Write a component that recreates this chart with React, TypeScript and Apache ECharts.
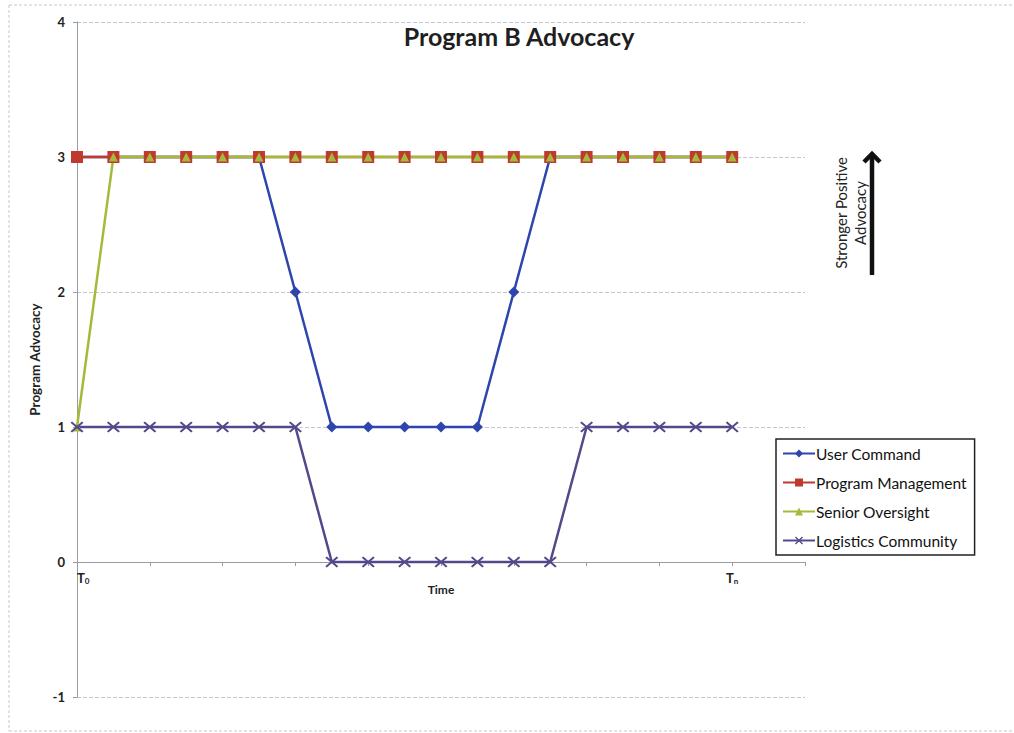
import React, { useEffect, useRef } from "react";
import * as echarts from "echarts";

// Time steps along the x axis (T0 .. Tn, plus two trailing empty steps)
const timeSteps = [
  "T0", "t1", "t2", "t3", "t4", "t5", "t6", "t7", "t8", "t9",
  "t10", "t11", "t12", "t13", "t14", "t15", "t16", "t17", "Tn", "t19", "t20",
];

// Advocacy levels per stakeholder at each time step
const userCommand = [3, 3, 3, 3, 3, 3, 2, 1, 1, 1, 1, 1, 2, 3, 3, 3, 3, 3, 3];
const programManagement = [3, 3, 3, 3, 3, 3, 3, 3, 3, 3, 3, 3, 3, 3, 3, 3, 3, 3, 3];
const seniorOversight = [1, 3, 3, 3, 3, 3, 3, 3, 3, 3, 3, 3, 3, 3, 3, 3, 3, 3, 3];
const logisticsCommunity = [1, 1, 1, 1, 1, 1, 1, 0, 0, 0, 0, 0, 0, 0, 1, 1, 1, 1, 1];

const yTicks = { min: -1, max: 4, interval: 1 };

const FONT = "Lato, 'Open Sans', sans-serif";
const X_SYMBOL =
  "path://M0,1.2L1.2,0L5,3.8L8.8,0L10,1.2L6.2,5L10,8.8L8.8,10L5,6.2L1.2,10L0,8.8L3.8,5Z";

const GRID = { left: 77, top: 22, width: 728, height: 675 };
// the time axis sits on the zero line: one y unit above the bottom edge
const zeroOffset = -(GRID.height / (yTicks.max - yTicks.min)) * (0 - yTicks.min);

export default function App() {
  const ref = useRef<HTMLDivElement>(null);

  useEffect(() => {
    if (!ref.current) return;
    const chart = echarts.init(ref.current, undefined, { renderer: "svg" });

    const axisData = timeSteps.map((s, i) =>
      i === 0 ? { value: s, textStyle: { align: "left" } } : { value: s }
    );

    chart.setOption({
      animation: false,
      backgroundColor: "#ffffff",
      textStyle: { fontFamily: FONT },
      title: {
        text: "Program B Advocacy",
        left: 514,
        top: 18,
        textAlign: "center",
        textStyle: { fontFamily: FONT, fontSize: 25, fontWeight: "bold", color: "#1f1f1f" },
      },
      grid: { ...GRID, containLabel: false },
      legend: {
        orient: "vertical",
        left: 776,
        top: 439,
        padding: [6, 8, 6, 6],
        itemGap: 12,
        itemWidth: 32,
        itemHeight: 10,
        borderColor: "#222",
        borderWidth: 1.5,
        textStyle: { fontFamily: FONT, fontSize: 15.5, lineHeight: 17, color: "#111", padding: [0, 0, 0, -4] },
        data: ["User Command", "Program Management", "Senior Oversight", "Logistics Community"],
      },
      xAxis: {
        type: "category",
        data: axisData,
        boundaryGap: false,
        offset: zeroOffset,
        name: "Time",
        nameLocation: "middle",
        nameGap: 21,
        nameMoveOverlap: false,
        nameTextStyle: { fontFamily: FONT, fontSize: 12, fontWeight: "bold", color: "#222" },
        axisLine: { onZero: false, lineStyle: { color: "#9a9aa2", width: 1 } },
        axisTick: {
          show: true,
          interval: (i: number) => i % 2 === 0,
          length: 4,
          lineStyle: { color: "#9a9aa2" },
        },
        axisLabel: {
          interval: 0,
          margin: 9,
          formatter: (v: string) =>
            v === "T0" ? "{t|T}{s|0}" : v === "Tn" ? "{t|T}{s|n}" : "",
          rich: {
            t: { fontFamily: FONT, fontSize: 13, fontWeight: "bold", color: "#222" },
            s: { fontFamily: FONT, fontSize: 8, fontWeight: "bold", color: "#222", padding: [6, 0, 0, 0] },
          },
        },
        splitLine: { show: false },
      },
      yAxis: {
        type: "value",
        min: yTicks.min,
        max: yTicks.max,
        interval: yTicks.interval,
        name: "Program Advocacy",
        nameLocation: "middle",
        nameGap: 33,
        nameTextStyle: { fontFamily: FONT, fontSize: 13.5, fontWeight: "bold", color: "#222" },
        axisLine: { show: true, lineStyle: { color: "#9a9aa2", width: 1 } },
        axisTick: { show: true, length: 4, lineStyle: { color: "#9a9aa2" } },
        axisLabel: { margin: 12, fontFamily: FONT, fontSize: 13, fontWeight: "bold", color: "#222" },
        splitLine: { show: true, lineStyle: { color: "#c4c6d2", type: [4, 2], width: 1 } },
      },
      series: [
        {
          name: "User Command",
          type: "line",
          data: userCommand,
          symbol: "diamond",
          symbolSize: 11,
          lineStyle: { color: "#2e45ad", width: 2.5 },
          itemStyle: { color: "#2e45ad" },
        },
        {
          name: "Program Management",
          type: "line",
          data: programManagement,
          symbol: "rect",
          symbolSize: 12,
          lineStyle: { color: "#c0392f", width: 2.5 },
          itemStyle: { color: "#c0392f" },
        },
        {
          name: "Senior Oversight",
          type: "line",
          data: seniorOversight,
          symbol: "triangle",
          symbolSize: 9,
          lineStyle: { color: "#a3bb3a", width: 2.5 },
          itemStyle: { color: "#a3bb3a" },
        },
        {
          name: "Logistics Community",
          type: "line",
          data: logisticsCommunity,
          symbol: X_SYMBOL,
          symbolSize: [13, 11],
          lineStyle: { color: "#54488a", width: 2.5 },
          itemStyle: { color: "#54488a" },
        },
      ],
      graphic: [
        // outer chart frame
        { type: "line", shape: { x1: 9, y1: 5, x2: 1012, y2: 5 }, style: { stroke: "#c6c8d6", lineWidth: 1, lineDash: [3, 2] } },
        { type: "line", shape: { x1: 9, y1: 5, x2: 9, y2: 731 }, style: { stroke: "#c6c8d6", lineWidth: 1, lineDash: [3, 2] } },
        { type: "line", shape: { x1: 9, y1: 731, x2: 1012, y2: 731 }, style: { stroke: "#c6c8d6", lineWidth: 1, lineDash: [3, 2] } },
        // direction annotation
        {
          type: "text",
          x: 850,
          y: 213,
          rotation: Math.PI / 2,
          style: {
            text: "Stronger Positive\nAdvocacy",
            fontFamily: FONT,
            fontSize: 15,
            lineHeight: 19,
            fill: "#222",
            align: "center",
            verticalAlign: "middle",
          },
        },
        { type: "line", shape: { x1: 872, y1: 275, x2: 872, y2: 157 }, style: { stroke: "#111", lineWidth: 4.5 } },
        {
          type: "polyline",
          shape: { points: [[864, 162], [872, 154], [880, 162]] },
          style: { stroke: "#111", lineWidth: 4.5, fill: "none" },
        },
      ],
    });

    return () => chart.dispose();
  }, []);

  return (
    <div
      ref={ref}
      style={{ position: "absolute", left: 0, top: 0, width: 1014, height: 733 }}
    />
  );
}
